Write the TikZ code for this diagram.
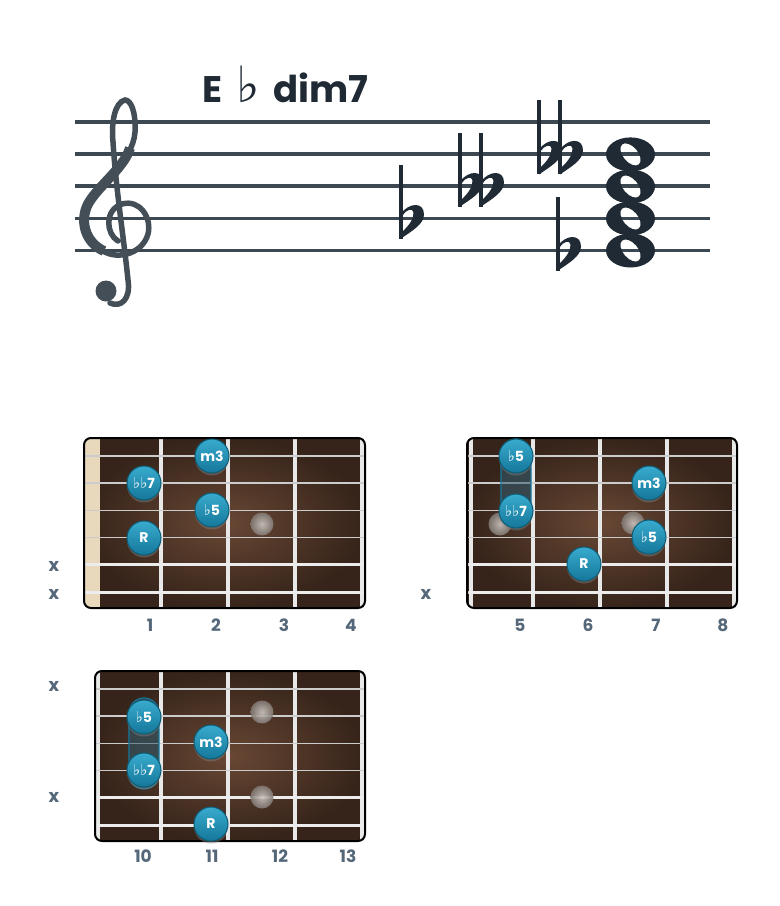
\documentclass[tikz,border=0pt]{standalone}
\usepackage{fontspec}
\setmainfont{Poppins}
\newfontfamily\symfont{DejaVu Sans}
\usetikzlibrary{shadows}

\definecolor{inkdark}{HTML}{1F2A35}
\definecolor{staffgray}{HTML}{3C4852}
\definecolor{clefink}{HTML}{434E57}
\definecolor{labelgray}{HTML}{55687A}
\definecolor{woodlight}{HTML}{684734}
\definecolor{wooddark}{HTML}{36241A}
\definecolor{nutcream}{HTML}{E9D9BC}
\definecolor{dotlight}{HTML}{38ABCE}
\definecolor{dotdark}{HTML}{15779A}
\definecolor{dotrim}{HTML}{0E5C76}
\definecolor{ghostgray}{HTML}{A99E96}

\newcommand{\flatglyph}{{\symfont\mdseries\fontsize{15}{15}\selectfont ♭}}
\newcommand{\titleflat}{{\symfont\mdseries\fontsize{50}{50}\selectfont ♭}}

\tikzset{notedot/.style={circle,minimum size=34pt,inner sep=0,draw=dotrim,line width=1pt,
        top color=dotlight,bottom color=dotdark,text=white,font=\bfseries\fontsize{14}{14}\selectfont,
        drop shadow={opacity=0.45,shadow xshift=0pt,shadow yshift=-2.5pt}},
    ghostdot/.style={circle,minimum size=23pt,inner sep=0,inner color=ghostgray!60!white,
        outer color=ghostgray!75!black,opacity=0.9},
    barre/.style={rounded corners=15pt,fill=staffgray!60!dotdark,fill opacity=0.55,draw=dotdark,line width=1.2pt},
    fretwire/.style={line width=4pt,color=gray!18},
    thinstring/.style={line width=1.6pt,color=gray!40},
    thickstring/.style={line width=3pt,color=gray!15},
    mutelabel/.style={text=labelgray,font=\bfseries\fontsize{18}{18}\selectfont},
    fretnum/.style={text=labelgray,font=\bfseries\fontsize{17}{17}\selectfont},
    staffline/.style={line width=3.5pt,color=staffgray}
}

\newcommand{\flatsign}[2]
{
% args: (x of stem, y of staff line)
    \fill [inkdark] (#1-1.8,#2-54) rectangle (#1+1.8,#2+20);
    \fill [inkdark,even odd rule] (#1,#2-5) .. controls (#1+8,#2-16) and (#1+23,#2-17) .. (#1+23,#2-4)
        .. controls (#1+23,#2+6) and (#1+10,#2+13) .. (#1,#2+20) -- cycle
        (#1+1.5,#2+13) .. controls (#1+8,#2+7) and (#1+13,#2) .. (#1+12.5,#2-6)
        .. controls (#1+12,#2-11) and (#1+5,#2-9) .. (#1+1.5,#2-3) -- cycle;
}
\newcommand{\dflatsign}[2]
{
% args: (x of first stem, y of staff line)
    \flatsign{#1}{#2}
    \flatsign{#1+21}{#2}
}
\newcommand{\wholenote}[2]
{
% args: (x, y of staff line)
    \fill [inkdark,even odd rule] (#1,#2) ellipse [x radius=24.5,y radius=17]
        (#1,#2) ellipse [x radius=7.5,y radius=13,rotate=40];
}
\newcommand{\fretboard}[5]
{
% args: (left x, right x, top y, right x of nut, list of fret x)
    \begin{scope}
        \clip [rounded corners=7pt] (#1,#3) rectangle (#2,#3+170);
        \fill [inner color=woodlight,outer color=wooddark] (#1,#3) rectangle (#2,#3+170);
        \fill [nutcream] (#1,#3) rectangle (#4,#3+170);
    \end{scope}

    \foreach \fx in {#5}
        \draw [fretwire] (\fx,#3) -- (\fx,#3+170);
    \foreach \s in {0,...,3}
        \draw [thinstring] (#1,#3+18+27.2*\s) -- (#2,#3+18+27.2*\s);
    \foreach \s in {4,5}
        \draw [thickstring] (#1,#3+18+27.2*\s) -- (#2,#3+18+27.2*\s);

    \draw [line width=2pt,rounded corners=7pt] (#1,#3) rectangle (#2,#3+170);
}

\begin{document}
\begin{tikzpicture}[x=1pt,y=-1pt]
\useasboundingbox (0,0) rectangle (780,906);

\node (title) at (199,102) [anchor=base west,text=inkdark,font=\bfseries\fontsize{37}{37}\selectfont]
    {E\hspace{14pt}\titleflat\hspace{13pt}dim7};

% staff
\foreach \i in {0,...,4}
    \draw [staffline] (75,122+32.1*\i) -- (710,122+32.1*\i);

% clef
\draw [clefink,line width=5.5pt,line cap=round]
    (118,241) .. controls (106,234) and (104,210) .. (122,204)
    .. controls (140,199) and (152,218) .. (148,234)
    .. controls (143,252) and (122,259) .. (107,253)
    .. controls (86,245) and (77,222) .. (87,203)
    .. controls (98,184) and (133,162) .. (135,132)
    .. controls (136,112) and (131,100) .. (125,100)
    .. controls (115,102) and (111,122) .. (113,142)
    .. controls (116,190) and (124,240) .. (128,280)
    .. controls (131,299) and (121,308) .. (110,303);
\draw [clefink,line width=10pt] (104,251) .. controls (86,243) and (79,222) .. (88,204)
    .. controls (98,186) and (124,168) .. (130,148);
\fill [clefink] (106,291) circle [radius=10.5];

% accidentals and chord
\flatsign{401}{218.5}
\dflatsign{460}{186.5}
\dflatsign{539}{154.4}
\flatsign{558}{250.5}

\foreach \y in {154.4,186.5,218.5,250.5}
{
    \wholenote{630.5}{\y}
}

%% shape at the nut
\fretboard{84}{365}{438}{100}{161,228,295,362}

\node (fbAg3) at (262,524) [ghostdot] {};
\node (fbAm3) at (212,456) [notedot] {m3};
\node (fbAd7) at (144,483) [notedot] {\flatglyph\flatglyph7};
\node (fbAf5) at (212,510) [notedot] {\flatglyph5};
\node (fbAr) at (144,538) [notedot] {R};

\node (fbAx5) at (54,566) [mutelabel] {x};
\node (fbAx6) at (54,594) [mutelabel] {x};
\foreach \n/\x in {1/150,2/216,3/284,4/351}
    \node (fbAn\n) at (\x,625) [fretnum] {\n};

%% shape at fret 5
\fretboard{467}{737}{438}{467}{471,533,600,667,734}

\node (fbBg5) at (500,524) [ghostdot] {};
\node (fbBg7) at (633,523) [ghostdot] {};
\draw [barre] (501,439) rectangle (531,528);
\node (fbBf5) at (516,456) [notedot] {\flatglyph5};
\node (fbBd7) at (516,511) [notedot] {\flatglyph\flatglyph7};
\node (fbBm3) at (649,483) [notedot] {m3};
\node (fbBf5b) at (649,537) [notedot] {\flatglyph5};
\node (fbBr) at (584,564) [notedot] {R};

\node (fbBx6) at (426,594) [mutelabel] {x};
\foreach \n/\x in {5/520,6/588,7/656,8/723}
    \node (fbBn\n) at (\x,625) [fretnum] {\n};

%% shape at fret 10
\fretboard{95}{365}{671}{95}{98,161,228,295,362}

\node (fbCg12a) at (262,712) [ghostdot] {};
\node (fbCg12b) at (262,797) [ghostdot] {};
\draw [barre] (129,698) rectangle (159,789);
\node (fbCf5) at (144,717) [notedot] {\flatglyph5};
\node (fbCm3) at (211,742) [notedot] {m3};
\node (fbCd7) at (144,770) [notedot] {\flatglyph\flatglyph7};
\node (fbCr) at (211,824) [notedot] {R};

\node (fbCx1) at (54,686) [mutelabel] {x};
\node (fbCx5) at (54,797) [mutelabel] {x};
\foreach \n/\x in {10/143,11/212,12/280,13/348}
    \node (fbCn\n) at (\x,856) [fretnum] {\n};

\end{tikzpicture}
\end{document}
